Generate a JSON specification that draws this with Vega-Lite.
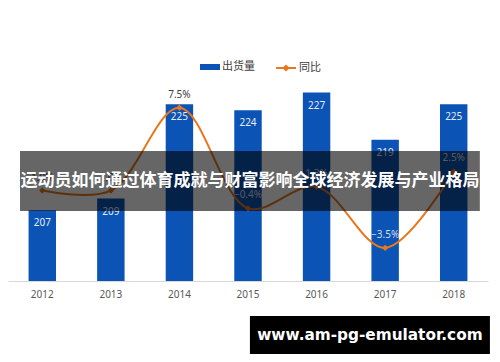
{
  "$schema": "https://vega.github.io/schema/vega-lite/v6.json",
  "width": 480,
  "height": 265,
  "autosize": {"type": "none"},
  "padding": {"left": 8, "top": 16, "right": 12, "bottom": 81},
  "background": "white",
  "config": {"view": {"stroke": null}, "font": "Noto Sans"},
  "data": {"values": [
    {"year": "2012", "shipments": 207, "yoy": 0.010},
    {"year": "2013", "shipments": 209, "yoy": 0.010},
    {"year": "2014", "shipments": 225, "yoy": 0.075},
    {"year": "2015", "shipments": 224, "yoy": -0.004},
    {"year": "2016", "shipments": 227, "yoy": 0.013},
    {"year": "2017", "shipments": 219, "yoy": -0.035},
    {"year": "2018", "shipments": 225, "yoy": 0.025}
  ]},
  "layer": [
    {
      "encoding": {
        "x": {"field": "year", "type": "ordinal", "title": null,
          "scale": {"paddingInner": 0.6, "paddingOuter": 0.3},
          "axis": {"labelAngle": 0, "labelFontSize": 10, "labelColor": "#595959", "labelPadding": 8, "ticks": false, "domainColor": "#d9d9d9", "grid": false, "labelFont": "Noto Sans"}}
      },
      "layer": [
        {
          "encoding": {
            "y": {"field": "shipments", "type": "quantitative", "axis": null,
              "scale": {"domain": [195, 240], "zero": false, "nice": false}}
          },
          "layer": [
            {"mark": {"type": "bar"},
             "encoding": {
               "y2": {"datum": 195},
               "fill": {"datum": "出货量", "type": "nominal",
               "scale": {"domain": ["出货量"], "range": ["#0B53B5"]},
               "legend": {"orient": "none", "legendX": 192, "legendY": 41, "title": null,
                 "symbolType": "M-1,-0.3H1V0.3H-1Z", "symbolSize": 400, "symbolStrokeWidth": 0,
                 "labelFont": "Noto Sans CJK SC", "labelFontSize": 11, "labelColor": "#404040", "labelOffset": 2}}}},
            {"mark": {"type": "text", "baseline": "middle", "dy": 13, "fontSize": 10, "color": "#E6ECF7"},
             "encoding": {"text": {"field": "shipments", "type": "quantitative"}}}
          ]
        },
        {
          "encoding": {
            "y": {"field": "yoy", "type": "quantitative", "axis": null,
              "scale": {"domain": [-0.061, 0.147], "zero": false, "nice": false}}
          },
          "layer": [
            {"mark": {"type": "line", "interpolate": "catmull-rom", "strokeWidth": 2},
             "encoding": {"stroke": {"datum": "同比", "type": "nominal",
               "scale": {"domain": ["同比"], "range": ["#E8771E"]},
               "legend": {"orient": "none", "legendX": 267, "legendY": 41, "title": null,
                 "symbolType": "M-1,0H1M-0.22,0L0,-0.22L0.22,0L0,0.22Z", "symbolSize": 400, "symbolStrokeWidth": 2,
                 "symbolFillColor": "#E8771E", "symbolStrokeColor": "#E8771E",
                 "labelFont": "Noto Sans CJK SC", "labelFontSize": 11, "labelColor": "#404040", "labelOffset": 2}}}},
            {"mark": {"type": "point", "shape": "diamond", "filled": true, "size": 40, "color": "#E8771E", "opacity": 1}},
            {"mark": {"type": "text", "baseline": "middle", "dy": -13, "fontSize": 10},
             "encoding": {
               "text": {"field": "yoy", "type": "quantitative", "format": ".1%"},
               "color": {"condition": {"test": "datum.year >= '2015'", "value": "#D5DDEB"}, "value": "#404040"}}}
          ]
        }
      ],
      "resolve": {"scale": {"y": "independent"}}
    },
    {
      "data": {"values": [{}]},
      "layer": [
        {"mark": {"type": "rect", "color": "black", "opacity": 0.6},
         "encoding": {
           "x": {"datum": 0.025, "type": "quantitative", "scale": {"domain": [0, 1], "nice": false, "zero": false}, "axis": null},
           "x2": {"datum": 0.983},
           "y": {"datum": 0.491, "type": "quantitative", "scale": {"domain": [0, 1], "nice": false, "zero": false}, "axis": null},
           "y2": {"datum": 0.264}}},
        {"mark": {"type": "text", "text": "运动员如何通过体育成就与财富影响全球经济发展与产业格局", "color": "white", "fontSize": 17, "fontWeight": "bold", "font": "Noto Sans CJK SC", "baseline": "middle", "align": "center"},
         "encoding": {
           "x": {"datum": 0.504, "type": "quantitative"},
           "y": {"datum": 0.377, "type": "quantitative"}}},
        {"mark": {"type": "rect", "color": "black", "opacity": 1},
         "encoding": {
           "x": {"datum": 0.504, "type": "quantitative"},
           "x2": {"datum": 1.004},
           "y": {"datum": -0.132, "type": "quantitative"},
           "y2": {"datum": -0.275}}},
        {"mark": {"type": "text", "text": "www.am-pg-emulator.com", "color": "white", "fontSize": 15.3, "fontWeight": "bold", "font": "DejaVu Sans", "baseline": "middle", "align": "center"},
         "encoding": {
           "x": {"datum": 0.754, "type": "quantitative"},
           "y": {"datum": -0.204, "type": "quantitative"}}}
      ]
    }
  ],
  "resolve": {"scale": {"x": "independent", "y": "independent"}}
}
